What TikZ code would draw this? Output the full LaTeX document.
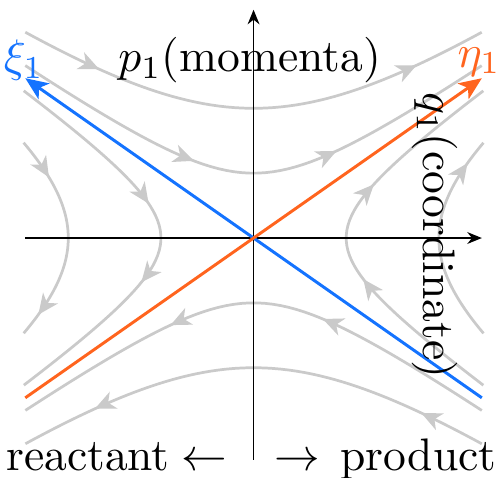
\documentclass[tikz,border=0pt]{standalone}
\usetikzlibrary{arrows.meta,decorations.markings}
\definecolor{xiblue}{RGB}{20,115,255}
\definecolor{etaorange}{RGB}{255,100,30}
\definecolor{flowgray}{RGB}{202,202,202}
\tikzset{
	flow/.style={flowgray, line width=0.6pt},
	flowtip/.style={postaction={decorate, decoration={markings, mark=at position #1 with {\arrow{Stealth[length=4.5pt, width=4pt, inset=1.3pt]}}}}},
	axistip/.style={-{Stealth[length=3.2pt, width=2.6pt]}},
	modetip/.style={-{Stealth[length=5pt, width=4.2pt, inset=1.3pt]}, line width=0.65pt}
}

\begin{document}
\begin{tikzpicture}
		\useasboundingbox (-1.955,-1.85) rectangle (1.877,1.835);
		\coordinate (O) at (0, 0);
		\coordinate (QL) at (-1.76, 0);
		\coordinate (QR) at (1.76, 0);
		\coordinate (PB) at (0, -1.71);
		\coordinate (PT) at (0, 1.76);
		\coordinate (XiTip) at (-1.76, 1.232);
		\coordinate (XiEnd) at (1.76, -1.232);
		\coordinate (EtaTip) at (1.76, 1.232);
		\coordinate (EtaEnd) at (-1.76, -1.232);

		\draw[flow, flowtip=0.17, flowtip=0.85] plot[domain=-1.76:1.76, samples=60] (\x, {0.7*sqrt(\x*\x+2.041)});
		\draw[flow, flowtip=0.38, flowtip=0.67] plot[domain=-1.76:1.76, samples=60] (\x, {0.7*sqrt(\x*\x+0.51)});
		\draw[flow, flowtip=0.36, flowtip=0.67] plot[domain=1.76:-1.76, samples=60] (\x, {-0.7*sqrt(\x*\x+0.51)});
		\draw[flow, flowtip=0.14, flowtip=0.84] plot[domain=1.76:-1.76, samples=60] (\x, {-0.7*sqrt(\x*\x+2.041)});
		\draw[flow, flowtip=0.41, flowtip=0.62] plot[domain=1.135:-1.135, samples=60] ({-sqrt(2.041*\x*\x+0.51)}, \x);
		\draw[flow, flowtip=0.2, flowtip=0.89] plot[domain=0.735:-0.735, samples=60] ({-sqrt(2.041*\x*\x+2.041)}, \x);
		\draw[flow, flowtip=0.39, flowtip=0.65] plot[domain=-1.135:1.135, samples=60] ({sqrt(2.041*\x*\x+0.51)}, \x);
		\draw[flow, flowtip=0.88] plot[domain=-0.735:0.735, samples=60] ({sqrt(2.041*\x*\x+2.041)}, \x);

		\draw[axistip] (QL) -- (QR);
		\draw[axistip] (PB) -- (PT);
		\draw[modetip, xiblue] (XiEnd) -- (XiTip);
		\draw[modetip, etaorange] (EtaEnd) -- (EtaTip);

		\node[text=xiblue] (xi) at (-1.77, 1.37) {$\xi_1$};
		\node[text=etaorange] (eta) at (1.74, 1.36) {$\eta_1$};
		\node (pmom) at (-0.03, 1.37) {$p_1$(momenta)};
		\node[rotate=-90] (qcoord) at (1.40, 0.02) {$q_1$(coordinate)};
		\node[anchor=base east] (reac) at (-0.08, -1.796) {reactant\hspace{2.6pt}$\leftarrow$};
		\node[anchor=base west] (prod) at (0.04, -1.796) {$\rightarrow$\hspace{4.4pt}product};
	\end{tikzpicture}
\end{document}
